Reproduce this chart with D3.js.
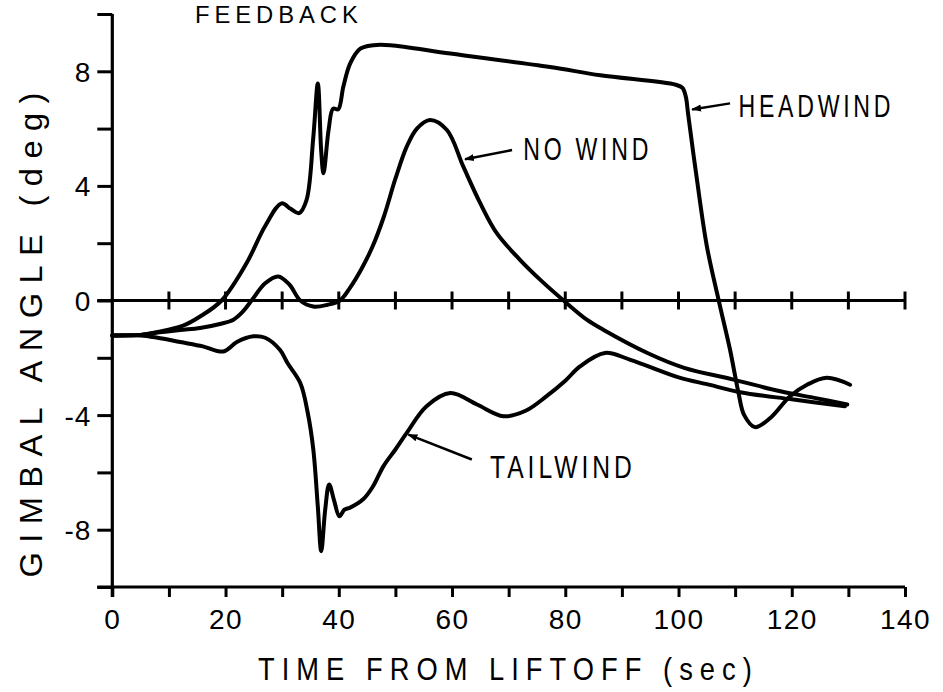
<!DOCTYPE html>
<html>
<head>
<meta charset="utf-8">
<script src="https://cdn.jsdelivr.net/npm/d3@7"></script>
<style>
  html, body { margin: 0; padding: 0; background: #fff; }
  svg { display: block; }
  text { font-family: "Liberation Sans", Arial, sans-serif; fill: #000; }
</style>
</head>
<body>
<svg id="chart" width="943" height="692"></svg>
<script>
// ---------------- data ----------------
const headT = [0, 5, 8, 12.5, 15.5, 19.3, 23.7, 27, 29.9, 31.5, 33, 34.3, 35.5, 36.3, 36.9, 37.3, 38.2, 39, 39.9, 40.8, 42, 43.8, 46.1, 49.1, 59.7, 77.3, 86.2, 99.5, 100.7, 101.3, 101.7, 103.2, 105, 107.1, 109.1, 110.6, 111.6, 113.5, 116.2, 119.7, 122.7, 126.2, 130.3];
const headV = [-1.22, -1.2, -1.1, -0.88, -0.56, 0, 1.3, 2.6, 3.39, 3.2, 3.05, 3.5, 5.7, 7.57, 5.2, 4.44, 5.95, 6.7, 6.67, 7.46, 8.27, 8.79, 8.91, 8.91, 8.62, 8.15, 7.86, 7.53, 7.42, 7.1, 6.5, 4.3, 1.9, 0, -1.72, -3.23, -4.0, -4.42, -4.1, -3.34, -2.94, -2.7, -2.94];

const noWindT = [0, 5, 8, 12, 15.5, 19, 21.4, 23, 24.6, 27, 29.3, 31.3, 33.2, 35.5, 38, 40.2, 42, 44, 46, 48, 50, 52, 53.8, 56.1, 59.1, 62, 65, 67.9, 72, 75.6, 79.7, 83.8, 86.7, 94.7, 101, 109.7, 118, 124, 129.8];
const noWindV = [-1.22, -1.2, -1.12, -1.03, -0.96, -0.82, -0.67, -0.4, 0, 0.6, 0.84, 0.55, 0, -0.21, -0.15, 0, 0.45, 1.1, 1.9, 2.95, 4.25, 5.37, 6.0, 6.3, 5.95, 4.67, 3.39, 2.35, 1.42, 0.72, 0, -0.67, -1.02, -1.85, -2.35, -2.76, -3.17, -3.4, -3.63];

const tailT = [0, 5, 8, 12, 16, 19.6, 22, 24.9, 27, 29.6, 31, 33.2, 34.5, 35.5, 36.3, 36.9, 37.6, 38.3, 39.2, 40.1, 41, 42, 44.3, 46, 47.9, 50, 52, 55.5, 59.7, 64.4, 69.1, 73, 76.7, 80, 82.6, 87, 91.5, 100.3, 105, 110.9, 120, 129.4];
const tailV = [-1.22, -1.22, -1.3, -1.45, -1.6, -1.78, -1.45, -1.25, -1.3, -1.72, -2.2, -2.88, -3.9, -5.2, -7.2, -8.75, -7.3, -6.42, -7.0, -7.53, -7.3, -7.23, -6.94, -6.5, -5.78, -5.2, -4.62, -3.69, -3.23, -3.63, -4.04, -3.85, -3.34, -2.8, -2.3, -1.83, -2.07, -2.7, -2.92, -3.2, -3.45, -3.69];

const xTicks = [0, 10, 20, 30, 40, 50, 60, 70, 80, 90, 100, 110, 120, 130, 140];
const xLabels = [0, 20, 40, 60, 80, 100, 120, 140];
const yTicks = [-10, -8, -6, -4, -2, 0, 2, 4, 6, 8, 10];
const yLabels = [-8, -4, 0, 4, 8];

// annotations: label, label position (t, v), arrow tail (t, v), arrow tip (t, v)
const annoNames = ["HEADWIND", "NO WIND", "TAILWIND"];
const annoLabelPos = [[110.6, 6.4], [72.6, 4.9], [66.7, -6.18]];
const annoArrowFrom = [[109.1, 6.88], [70.6, 5.25], [63.5, -5.55]];
const annoArrowTo = [[102.4, 6.67], [62.3, 4.93], [52.3, -4.68]];
const annoWidths = [152, 125, 142];

const title = "FEEDBACK";
const xTitle = "TIME FROM LIFTOFF (sec)";
const yTitle = "GIMBAL ANGLE (deg)";

// ---------------- layout ----------------
const svg = d3.select("#chart");
const x = d3.scaleLinear().domain([0, 140]).range([112.3, 905]);
const y = d3.scaleLinear().domain([-10, 10]).range([587, 14]);

svg.append("defs").append("marker")
  .attr("id", "ah").attr("viewBox", "0 0 10 10")
  .attr("refX", 9).attr("refY", 5)
  .attr("markerWidth", 10).attr("markerHeight", 10)
  .attr("markerUnits", "userSpaceOnUse")
  .attr("orient", "auto")
  .append("path").attr("d", "M0,1.5 L10,5 L0,8.5 Z").attr("fill", "#000");

const axW = 3.2;

// fitted, letter-spaced text: scaled horizontally so its width is `width`
function fittedText(parent, str, px, py, size, spacing, width, anchor, rotate) {
  const g = parent.append("g").attr("transform", `translate(${px},${py})` + (rotate ? ` rotate(${rotate})` : ""));
  const t = g.append("text").attr("font-size", size).attr("letter-spacing", spacing).text(str);
  const w = t.node().getComputedTextLength() - spacing;
  const k = width / w;
  const x0 = anchor === "middle" ? -width / 2 : 0;
  t.attr("transform", `translate(${x0},0) scale(${k},1)`);
  return t;
}

// y axis
const yAxis = d3.axisLeft(y).tickValues(yTicks).tickSize(15).tickPadding(6)
  .tickFormat(d => yLabels.includes(d) ? String(d) : "");
const gy = svg.append("g").attr("transform", `translate(${x(0)},0)`).call(yAxis);
gy.select(".domain").attr("stroke-width", axW).attr("d", `M0,${y(10)}V${y(-10) + 10}`);
gy.selectAll(".tick line").attr("stroke-width", 3);
gy.selectAll(".tick text").attr("font-size", 28).attr("dy", "0.36em").attr("letter-spacing", 1);

// bottom x axis
const xAxis = d3.axisBottom(x).tickValues(xTicks).tickSize(10).tickPadding(12)
  .tickFormat(d => xLabels.includes(d) ? String(d) : "");
const gx = svg.append("g").attr("transform", `translate(0,${y(-10)})`).call(xAxis);
gx.select(".domain").attr("stroke-width", axW).attr("d", `M${x(0) - 15},0H${x(140)}`);
gx.selectAll(".tick line").attr("stroke-width", 3);
gx.selectAll(".tick text").attr("font-size", 28).attr("letter-spacing", 1.5);

// zero line with crossing ticks
const gz = svg.append("g");
gz.append("line").attr("x1", x(0) - 15).attr("x2", x(140))
  .attr("y1", y(0)).attr("y2", y(0)).attr("stroke", "#000").attr("stroke-width", axW);
gz.selectAll("line.zt").data(xTicks.filter(d => d > 0)).join("line").attr("class", "zt")
  .attr("x1", d => x(d)).attr("x2", d => x(d))
  .attr("y1", y(0) - 9).attr("y2", y(0) + 9)
  .attr("stroke", "#000").attr("stroke-width", 3);

// curves
const line = d3.line().x(d => x(d[0])).y(d => y(d[1])).curve(d3.curveCatmullRom.alpha(0.5));
const series = [
  headT.map((t, i) => [t, headV[i]]),
  noWindT.map((t, i) => [t, noWindV[i]]),
  tailT.map((t, i) => [t, tailV[i]])
];
svg.selectAll("path.curve").data(series).join("path").attr("class", "curve")
  .attr("d", line).attr("fill", "none").attr("stroke", "#000")
  .attr("stroke-width", 4).attr("stroke-linejoin", "round").attr("stroke-linecap", "round");

// annotations
annoNames.forEach((name, i) => {
  svg.append("line")
    .attr("x1", x(annoArrowFrom[i][0])).attr("y1", y(annoArrowFrom[i][1]))
    .attr("x2", x(annoArrowTo[i][0])).attr("y2", y(annoArrowTo[i][1]))
    .attr("stroke", "#000").attr("stroke-width", 2.5).attr("marker-end", "url(#ah)");
  fittedText(svg, name, x(annoLabelPos[i][0]), y(annoLabelPos[i][1]), 31, 5, annoWidths[i], "start");
});

// titles
fittedText(svg, title, 195, 23, 24, 5, 163, "start");
fittedText(svg, xTitle, 505, 680, 31, 8, 494, "middle");
fittedText(svg, yTitle, 42, 335, 31, 9, 485, "middle", -90);
</script>
</body>
</html>
